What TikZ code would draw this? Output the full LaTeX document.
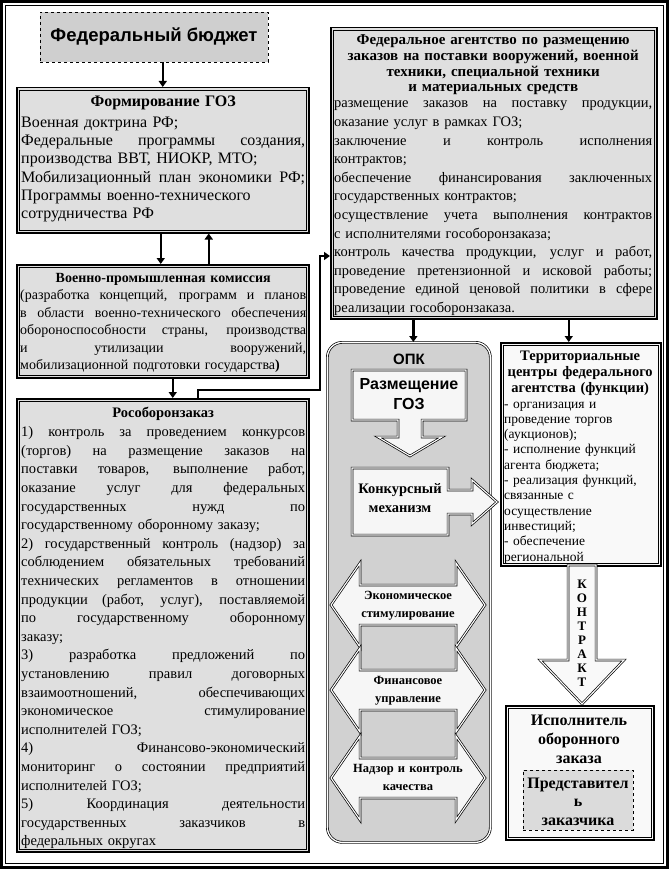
\documentclass[tikz,border=0pt]{standalone}
\usepackage{fontspec}
\setmainfont{Liberation Serif}
\newfontfamily\hsans{Liberation Sans}
\usepackage{xcolor}
\usepackage{tikz}
\usetikzlibrary{arrows.meta,positioning,calc}

\newcommand{\jline}[1]{\makebox[\linewidth][s]{\spaceskip=.3333em plus 1fil\relax #1}}
\newcommand{\ctr}[1]{\makebox[\linewidth][c]{#1}}
\newcommand{\innerframe}[1]{\draw[line width=0.6pt] ([shift={(3.2,3.2)}]#1.north west) rectangle ([shift={(-3.2,-3.2)}]#1.south east);}

\begin{document}
\begin{tikzpicture}[
  x=1pt, y=-1pt,
  font=\fontsize{14.5}{18.6}\selectfont,
  dbox/.style={draw, line width=1.5pt, fill=gray!25, inner sep=0pt, anchor=north west},
  wbox/.style={dbox, fill=gray!5},
  txt/.style={inner sep=0pt, align=left, anchor=base west},
  arr/.style={line width=2.4pt, -{Triangle[length=6pt,width=8pt]}},
  blk/.style={draw, double, double distance=1.1pt, line width=0.7pt, fill=gray!7, line join=miter},
  lbl/.style={inner sep=0pt, align=center, anchor=base, text width=120pt, font=\bfseries\fontsize{12.5}{18}\selectfont}
]
  \useasboundingbox (0,0) rectangle (669,869);
  \fill[white] (0,0) rectangle (669,869);

  % outer frame
  \draw[line width=2.5pt] (1.5,1.5) rectangle (667.5,867.5);
  \draw[line width=0.8pt] (5.5,5.5) rectangle (663.5,863.5);

  % left column
  \node[draw, dashed, line width=0.8pt, fill=gray!38, minimum width=228pt, minimum height=50pt,
    font=\hsans\bfseries\fontsize{18.5}{20}\selectfont] (budget) at (154,37) {Федеральный бюджет};

  \node[dbox, minimum width=292pt, minimum height=145pt] (form) at (16,87) {};
  \innerframe{form}
  \node[txt, text width=284pt, font=\fontsize{16}{18.3}\selectfont] (formtxt) at (21,107) {%
    \ctr{\textbf{Формирование ГОЗ}}\\[2pt]
    Военная доктрина РФ;\\
    \jline{Федеральные программы создания,}\\
    производства ВВТ, НИОКР, МТО;\\
    \jline{Мобилизационный план экономики РФ;}\\
    Программы военно-технического\\
    сотрудничества РФ};

  \node[dbox, minimum width=292pt, minimum height=113pt] (vpk) at (16,264) {};
  \innerframe{vpk}
  \node[txt, text width=286pt, font=\fontsize{14}{17.5}\selectfont] (vpktxt) at (20,282) {%
    \ctr{\textbf{Военно-промышленная комиссия}}\\
    \jline{(разработка концепций, программ и планов}\\
    \jline{в области военно-технического обеспечения}\\
    \jline{обороноспособности страны, производства}\\
    \jline{и утилизации вооружений,}\\
    мобилизационной подготовки государства\textbf{)}};

  \node[dbox, minimum width=292pt, minimum height=453pt] (ros) at (16,398) {};
  \innerframe{ros}
  \node[txt, text width=284pt] (rostxt) at (21,417) {%
    \ctr{\textbf{Рособоронзаказ}}\\[1pt]
    \jline{1) контроль за проведением конкурсов}\\
    \jline{(торгов) на размещение заказов на}\\
    \jline{поставки товаров, выполнение работ,}\\
    \jline{оказание услуг для федеральных}\\
    \jline{государственных нужд по}\\
    государственному оборонному заказу;\\
    \jline{2) государственный контроль (надзор) за}\\
    \jline{соблюдением обязательных требований}\\
    \jline{технических регламентов в отношении}\\
    \jline{продукции (работ, услуг), поставляемой}\\
    \jline{по государственному оборонному}\\
    заказу;\\
    \jline{3) разработка предложений по}\\
    \jline{установлению правил договорных}\\
    \jline{взаимоотношений, обеспечивающих}\\
    \jline{экономическое стимулирование}\\
    исполнителей ГОЗ;\\
    \jline{4) Финансово-экономический}\\
    \jline{мониторинг о состоянии предприятий}\\
    исполнителей ГОЗ;\\
    \jline{5) Координация деятельности}\\
    \jline{государственных заказчиков в}\\
    федеральных округах};

  % right part
  \node[dbox, minimum width=326pt, minimum height=291pt] (agency) at (330,27) {};
  \innerframe{agency}
  \node[txt, text width=316pt, font=\bfseries\fontsize{15}{15.6}\selectfont] (agencyhead) at (335,45) {%
    \ctr{Федеральное агентство по размещению}\\
    \ctr{заказов на поставки вооружений, военной}\\
    \ctr{техники, специальной техники}\\
    \ctr{и материальных средств}};
  \node[txt, text width=318pt] (agencytxt) at (334,108) {%
    \jline{размещение заказов на поставку продукции,}\\
    оказание услуг в рамках ГОЗ;\\
    \jline{заключение и контроль исполнения}\\
    контрактов;\\
    \jline{обеспечение финансирования заключенных}\\
    государственных контрактов;\\
    \jline{осуществление учета выполнения контрактов}\\
    с исполнителями гособоронзаказа;\\
    \jline{контроль качества продукции, услуг и работ,}\\
    \jline{проведение претензионной и исковой работы;}\\
    \jline{проведение единой ценовой политики в сфере}\\
    реализации гособоронзаказа.};

  % OPK
  \node[draw, double, double distance=1.3pt, line width=0.7pt, rounded corners=15pt, fill=gray!36,
    inner sep=0pt, anchor=north west, minimum width=163pt, minimum height=500pt] (opk) at (327,342) {};
  \node[inner sep=0pt, anchor=base, font=\hsans\bfseries\fontsize{15}{15}\selectfont] (opklbl) at (409,364) {ОПК};

  \draw[blk] (352,370) -- (466,370) -- (466,420) -- (422,420) -- (422,437) -- (442,437) -- (410,456)
    -- (378,437) -- (398,437) -- (398,420) -- (352,420) -- cycle;
  \node[inner sep=0pt, anchor=base, align=center, text width=112pt,
    font=\hsans\bfseries\fontsize{16}{20}\selectfont] (razm) at (409,389) {Размещение\\ГОЗ};

  \draw[blk] (352,468) -- (448,468) -- (448,490) -- (472,490) -- (472,480) -- (497,502) -- (472,524)
    -- (472,514) -- (448,514) -- (448,535) -- (352,535) -- cycle;
  \node[lbl, font=\bfseries\fontsize{14.5}{19}\selectfont] (konk) at (400,493) {Конкурсный\\механизм};

  \foreach \yc/\nm/\tx in {605/econ/{Экономическое\\стимулирование},
                           690/fin/{Финансовое\\управление},
                           778/nadz/{Надзор и контроль\\качества}}{
    \draw[blk] (331,\yc) -- (360,\yc-42) -- (360,\yc-20) -- (456,\yc-20) -- (456,\yc-42) -- (485,\yc)
      -- (456,\yc+42) -- (456,\yc+20) -- (360,\yc+20) -- (360,\yc+42) -- cycle;
    \node[lbl] (\nm) at (408,\yc-6) {\tx};
  }

  % territorial centres
  \node[wbox, minimum width=160pt, minimum height=223pt] (terr) at (500,342) {};
  \innerframe{terr}
  \node[txt, text width=152pt, font=\bfseries\fontsize{14.5}{16}\selectfont] (terrhead) at (504,360) {%
    \ctr{Территориальные}\\
    \ctr{центры федерального}\\
    \ctr{агентства (функции)}};
  \node[txt, text width=154pt, font=\fontsize{13.5}{15.3}\selectfont] (terrtxt) at (504,408) {%
    - организация и\\
    проведение торгов\\
    (аукционов);\\
    - исполнение функций\\
    агента бюджета;\\
    - реализация функций,\\
    связанные с\\
    осуществление\\
    инвестиций;\\
    - обеспечение\\
    региональной};

  % contract arrow
  \draw[blk, fill=gray!5] (568,565) -- (596,565) -- (596,660) -- (624,660) -- (582,704) -- (540,660)
    -- (568,660) -- cycle;
  \node[inner sep=0pt, anchor=base, align=center, text width=20pt,
    font=\bfseries\fontsize{13}{14}\selectfont] (kontr) at (582,588) {К\\О\\Н\\Т\\Р\\А\\К\\Т};

  % contractor
  \node[dbox, fill=gray!5, line width=1.8pt, minimum width=148pt, minimum height=134pt] (isp) at (505,705) {};
  \innerframe{isp}
  \node[inner sep=0pt, anchor=base, align=center, text width=140pt,
    font=\bfseries\fontsize{16}{19}\selectfont] (isptxt) at (579,725) {Исполнитель\\оборонного\\заказа};
  \node[draw, dashed, line width=0.8pt, fill=gray!28, anchor=north west, inner sep=0pt,
    minimum width=110pt, minimum height=60pt] (rep) at (523,770) {};
  \node[inner sep=0pt, anchor=base, align=center, text width=108pt,
    font=\bfseries\fontsize{16}{18.5}\selectfont] (reptxt) at (578,788) {Представител\\ь\\заказчика};

  % connectors
  \draw[arr] (form.north |- budget.south) -- (form.north);
  \draw[arr] ([xshift=-2pt]form.south) -- ([xshift=-2pt]form.south |- vpk.north);
  \draw[arr] ([xshift=46pt]vpk.north) -- ([xshift=46pt]vpk.north |- form.south);
  \draw[arr] ([xshift=10pt]vpk.south) -- ([xshift=10pt]vpk.south |- ros.north);
  \coordinate (kink) at (320,256);
  \draw[arr] ([xshift=35pt]ros.north) -- ++(0,-8) -| (kink) -- (kink -| agency.west);
  \draw[arr] ([xshift=4.5pt]opk.north |- agency.south) -- ([xshift=4.5pt]opk.north);
  \draw[arr] ([xshift=-12pt]terr.north |- agency.south) -- ([xshift=-12pt]terr.north);
\end{tikzpicture}
\end{document}
